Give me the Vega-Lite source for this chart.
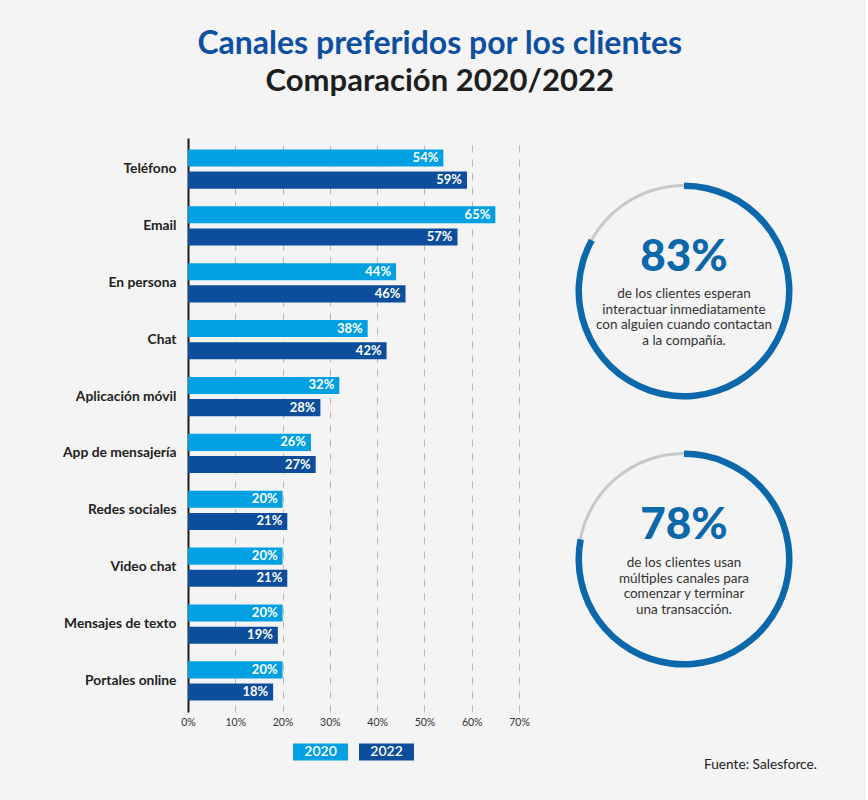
{
  "$schema": "https://vega.github.io/schema/vega-lite/v6.json",
  "background": "#f4f4f4",
  "padding": {"left": 62, "top": 28, "right": 49, "bottom": 29},
  "config": {"font": "Lato", "view": {"stroke": null}},
  "title": {
    "text": "Canales preferidos por los clientes",
    "subtitle": "Comparación 2020/2022",
    "fontSize": 32, "fontWeight": "bold", "color": "#0d4fa0",
    "subtitleFontSize": 31, "subtitleFontWeight": "bold", "subtitleColor": "#1e1e1e",
    "subtitlePadding": 6, "anchor": "middle", "offset": 40, "dx": 0
  },
  "spacing": 39,
  "hconcat": [
    {
      "width": 331,
      "height": 574,
      "data": {"values": [
        {"canal": "Teléfono", "year": "2020", "v": 0.54},
        {"canal": "Teléfono", "year": "2022", "v": 0.59},
        {"canal": "Email", "year": "2020", "v": 0.65},
        {"canal": "Email", "year": "2022", "v": 0.57},
        {"canal": "En persona", "year": "2020", "v": 0.44},
        {"canal": "En persona", "year": "2022", "v": 0.46},
        {"canal": "Chat", "year": "2020", "v": 0.38},
        {"canal": "Chat", "year": "2022", "v": 0.42},
        {"canal": "Aplicación móvil", "year": "2020", "v": 0.32},
        {"canal": "Aplicación móvil", "year": "2022", "v": 0.28},
        {"canal": "App de mensajería", "year": "2020", "v": 0.26},
        {"canal": "App de mensajería", "year": "2022", "v": 0.27},
        {"canal": "Redes sociales", "year": "2020", "v": 0.20},
        {"canal": "Redes sociales", "year": "2022", "v": 0.21},
        {"canal": "Video chat", "year": "2020", "v": 0.20},
        {"canal": "Video chat", "year": "2022", "v": 0.21},
        {"canal": "Mensajes de texto", "year": "2020", "v": 0.20},
        {"canal": "Mensajes de texto", "year": "2022", "v": 0.19},
        {"canal": "Portales online", "year": "2020", "v": 0.20},
        {"canal": "Portales online", "year": "2022", "v": 0.18}
      ]},
      "encoding": {
        "y": {
          "field": "canal", "type": "nominal", "sort": null,
          "scale": {"paddingInner": 0.31, "paddingOuter": 0.2},
          "axis": {"title": null, "ticks": false, "labelFontSize": 13.8, "labelFontWeight": "bold", "labelColor": "#222", "labelPadding": 12, "domainColor": "#1a1a1a", "domainWidth": 2, "grid": false}
        },
        "yOffset": {"field": "year", "type": "nominal", "scale": {"paddingInner": 0.23}},
        "x": {
          "field": "v", "type": "quantitative",
          "scale": {"domain": [0, 0.7]},
          "axis": {"title": null, "format": ".0%", "values": [0, 0.1, 0.2, 0.3, 0.4, 0.5, 0.6, 0.7], "domain": false, "ticks": false, "labelFlush": false, "labelFontSize": 10.5, "labelColor": "#333", "labelPadding": 5, "gridDash": [7, 7], "gridColor": "#b8b8b8", "gridWidth": 1}
        }
      },
      "layer": [
        {
          "mark": {"type": "bar"},
          "encoding": {
            "color": {
              "field": "year", "type": "nominal",
              "scale": {"domain": ["2020", "2022"], "range": ["#00a0e2", "#0c4e9b"]},
              "legend": {"orient": "none", "legendX": 105, "legendY": 586, "title": null, "direction": "horizontal", "symbolType": "M-1,-0.31H1V0.31H-1Z", "symbolSize": 3025, "symbolStrokeWidth": 0, "symbolOpacity": 1, "labelColor": "white", "labelFontSize": 14, "labelFontWeight": 600, "labelAlign": "center", "labelOffset": -27.5, "columnPadding": 11, "labelBaseline": "middle"}
            }
          }
        },
        {
          "mark": {"type": "text", "align": "right", "dx": -5, "color": "white", "fontWeight": "bold", "fontSize": 13, "baseline": "middle"},
          "encoding": {"text": {"field": "v", "type": "quantitative", "format": ".0%"}}
        }
      ]
    },
    {
      "spacing": 0,
      "title": {"text": "Fuente: Salesforce.", "orient": "bottom", "anchor": "end", "fontSize": 13.7, "fontWeight": "normal", "color": "#222", "offset": 84, "dx": 18},
      "vconcat": [
        {
          "width": 230,
          "height": 306,
          "layer": [
            {
              "data": {"values": [{"seg": "sí", "v": 83}, {"seg": "no", "v": 17}]},
              "mark": {"type": "arc", "radius": 107, "radius2": 104, "color": "#c8c8c8"},
              "encoding": {"theta": {"field": "v", "type": "quantitative", "stack": true, "scale": {"domain": [0, 100]}}}
            },
            {
              "data": {"values": [{"seg": "sí", "v": 83}, {"seg": "no", "v": 17}]},
              "transform": [{"filter": "datum.seg == 'sí'"}],
              "mark": {"type": "arc", "radius": 108.5, "radius2": 102, "color": "#0b68ab"},
              "encoding": {"theta": {"field": "v", "type": "quantitative", "stack": true, "scale": {"domain": [0, 100]}}}
            },
            {
              "data": {"values": [{"t": "83%"}]},
              "mark": {"type": "text", "fontSize": 44, "fontWeight": 900, "color": "#0b68ab", "dy": -33, "baseline": "middle"},
              "encoding": {"text": {"field": "t", "type": "nominal"}}
            },
            {
              "data": {"values": [{"t": "de los clientes esperan\ninteractuar inmediatamente\ncon alguien cuando contactan\na la compañía."}]},
              "mark": {"type": "text", "fontSize": 13.5, "color": "#333", "dy": 3, "baseline": "middle", "lineBreak": "\n", "lineHeight": 15.7},
              "encoding": {"text": {"field": "t", "type": "nominal"}}
            }
          ]
        },
        {
          "width": 230,
          "height": 230,
          "layer": [
            {
              "data": {"values": [{"seg": "sí", "v": 78}, {"seg": "no", "v": 22}]},
              "mark": {"type": "arc", "radius": 107, "radius2": 104, "color": "#c8c8c8"},
              "encoding": {"theta": {"field": "v", "type": "quantitative", "stack": true, "scale": {"domain": [0, 100]}}}
            },
            {
              "data": {"values": [{"seg": "sí", "v": 78}, {"seg": "no", "v": 22}]},
              "transform": [{"filter": "datum.seg == 'sí'"}],
              "mark": {"type": "arc", "radius": 108.5, "radius2": 102, "color": "#0b68ab"},
              "encoding": {"theta": {"field": "v", "type": "quantitative", "stack": true, "scale": {"domain": [0, 100]}}}
            },
            {
              "data": {"values": [{"t": "78%"}]},
              "mark": {"type": "text", "fontSize": 44, "fontWeight": 900, "color": "#0b68ab", "dy": -33, "baseline": "middle"},
              "encoding": {"text": {"field": "t", "type": "nominal"}}
            },
            {
              "data": {"values": [{"t": "de los clientes usan\nmúltiples canales para\ncomenzar y terminar\nuna transacción."}]},
              "mark": {"type": "text", "fontSize": 13.5, "color": "#333", "dy": 4, "baseline": "middle", "lineBreak": "\n", "lineHeight": 15.7},
              "encoding": {"text": {"field": "t", "type": "nominal"}}
            }
          ]
        }
      ]
    }
  ]
}
